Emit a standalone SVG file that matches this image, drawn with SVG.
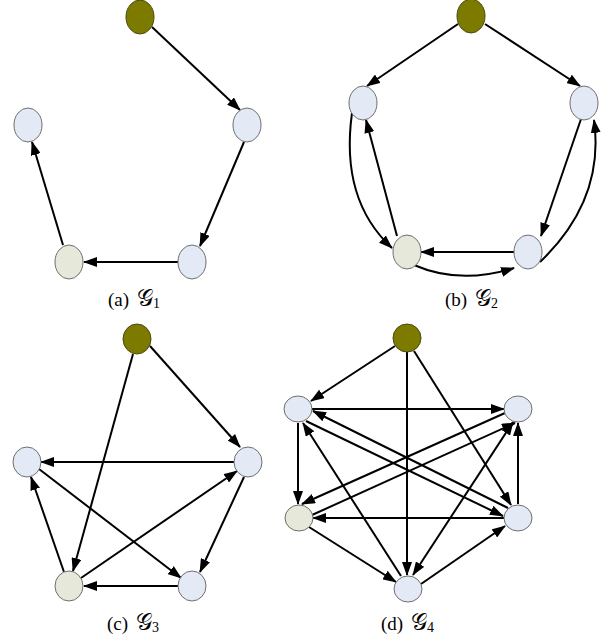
<svg xmlns="http://www.w3.org/2000/svg" width="602" height="637" viewBox="0 0 602 637">
<style>
.n{fill:#e3eaf6;stroke:#6e6e6e;stroke-width:1}
.s{fill:#7d7a00;stroke:#4a4a10;stroke-width:1}
.g{fill:#e6e8da;stroke:#6e6e6e;stroke-width:1}
.e{stroke:#000;stroke-width:2;fill:none;marker-end:url(#ah)}
.b{marker-start:url(#ahs)}
.t{font-family:"Liberation Serif","DejaVu Serif",serif;font-size:19px;fill:#000}
.G{font-size:23px}
.sub{font-size:14px}
</style>
<defs>
<marker id="ah" markerUnits="userSpaceOnUse" markerWidth="14" markerHeight="10" refX="13" refY="5" orient="auto"><path d="M0,0 L14,5 L0,10 z" fill="#000"/></marker>
<marker id="ahs" markerUnits="userSpaceOnUse" markerWidth="14" markerHeight="10" refX="1" refY="5" orient="auto"><path d="M14,0 L0,5 L14,10 z" fill="#000"/></marker>
</defs>
<rect width="602" height="637" fill="#fff"/>
<g id="connectors">
<!-- (a) -->
<line class="e" x1="152" y1="27" x2="240" y2="110"/>
<line class="e" x1="244" y1="142" x2="200" y2="246"/>
<line class="e" x1="178" y1="262" x2="84" y2="262"/>
<line class="e" x1="63" y1="245" x2="32" y2="142"/>
<!-- (b) -->
<line class="e" x1="458" y1="24" x2="367" y2="86"/>
<line class="e" x1="485" y1="24" x2="580" y2="86"/>
<path class="e" d="M352,113 Q340,200 392,248"/>
<line class="e" x1="397" y1="236" x2="366" y2="120"/>
<line class="e" x1="581" y1="119" x2="541" y2="236"/>
<path class="e" d="M540,262 Q605,200 594,120"/>
<line class="e" x1="514" y1="252" x2="421" y2="252"/>
<path class="e" d="M414,265 Q460,285 514,268"/>
<!-- (c) -->
<line class="e" x1="150" y1="346" x2="240" y2="447"/>
<line class="e" x1="133" y1="354" x2="73" y2="571"/>
<line class="e" x1="234" y1="462" x2="41" y2="462"/>
<line class="e" x1="39" y1="469" x2="181" y2="578"/>
<line class="e" x1="244" y1="477" x2="200" y2="572"/>
<line class="e" x1="81" y1="578" x2="237" y2="471"/>
<line class="e" x1="178" y1="586" x2="84" y2="586"/>
<line class="e" x1="64" y1="572" x2="31" y2="477"/>
<!-- (d) -->
<line class="e" x1="395" y1="346" x2="311" y2="401"/>
<line class="e" x1="407" y1="352" x2="407" y2="575"/>
<line class="e" x1="414" y1="351" x2="511" y2="505"/>
<line class="e" x1="312" y1="409" x2="504" y2="409"/>
<line class="e" x1="508" y1="508" x2="313" y2="411"/>
<line class="e" x1="306" y1="421" x2="503" y2="516"/>
<line class="e" x1="298" y1="423" x2="298" y2="504"/>
<line class="e" x1="401" y1="576" x2="303" y2="423"/>
<line class="e" x1="505" y1="413" x2="302" y2="504"/>
<line class="e" x1="312" y1="515" x2="515" y2="423"/>
<line class="e" x1="504" y1="518" x2="313" y2="518"/>
<line class="e" x1="518" y1="504" x2="518" y2="423"/>
<line class="e" x1="309" y1="527" x2="396" y2="582"/>
<line class="e" x1="421" y1="584" x2="505" y2="526"/>
<line class="e b" x1="413" y1="575" x2="513" y2="422"/>
</g>
<g id="a0"><ellipse class="s" cx="140" cy="17" rx="14" ry="17"/></g>
<g id="a1"><ellipse class="n" cx="247" cy="125" rx="14" ry="17"/></g>
<g id="a2"><ellipse class="n" cx="28" cy="125" rx="14" ry="17"/></g>
<g id="a3"><ellipse class="n" cx="192" cy="262" rx="14" ry="17"/></g>
<g id="a4"><ellipse class="g" cx="69" cy="262" rx="14" ry="17"/></g>
<g id="b0"><ellipse class="s" cx="471" cy="16" rx="14" ry="17"/></g>
<g id="b1"><ellipse class="n" cx="363" cy="103" rx="14" ry="17"/></g>
<g id="b2"><ellipse class="n" cx="584" cy="103" rx="14" ry="17"/></g>
<g id="b3"><ellipse class="g" cx="407" cy="252" rx="14" ry="17"/></g>
<g id="b4"><ellipse class="n" cx="528" cy="252" rx="14" ry="17"/></g>
<g id="c0"><ellipse class="s" cx="137" cy="339" rx="14" ry="15"/></g>
<g id="c1"><ellipse class="n" cx="27" cy="462" rx="14" ry="15"/></g>
<g id="c2"><ellipse class="n" cx="248" cy="462" rx="14" ry="15"/></g>
<g id="c3"><ellipse class="g" cx="69" cy="586" rx="14" ry="15"/></g>
<g id="c4"><ellipse class="n" cx="192" cy="586" rx="14" ry="15"/></g>
<g id="d0"><ellipse class="s" cx="407" cy="338" rx="14" ry="14"/></g>
<g id="d1"><ellipse class="n" cx="298" cy="409" rx="14" ry="13"/></g>
<g id="d2"><ellipse class="n" cx="518" cy="409" rx="14" ry="13"/></g>
<g id="d3"><ellipse class="g" cx="299" cy="518" rx="14" ry="13"/></g>
<g id="d4"><ellipse class="n" cx="518" cy="518" rx="14" ry="13"/></g>
<g id="d5"><ellipse class="n" cx="408" cy="589" rx="14" ry="13"/></g>
<text class="t" x="108" y="306">(a) <tspan class="G" x="137">𝒢</tspan><tspan class="sub" x="153" dy="2">1</tspan></text>
<text class="t" x="445" y="306">(b) <tspan class="G" x="475">𝒢</tspan><tspan class="sub" x="491" dy="2">2</tspan></text>
<text class="t" x="107" y="630">(c) <tspan class="G" x="136">𝒢</tspan><tspan class="sub" x="152" dy="2">3</tspan></text>
<text class="t" x="381" y="630">(d) <tspan class="G" x="411">𝒢</tspan><tspan class="sub" x="427" dy="2">4</tspan></text>
</svg>
